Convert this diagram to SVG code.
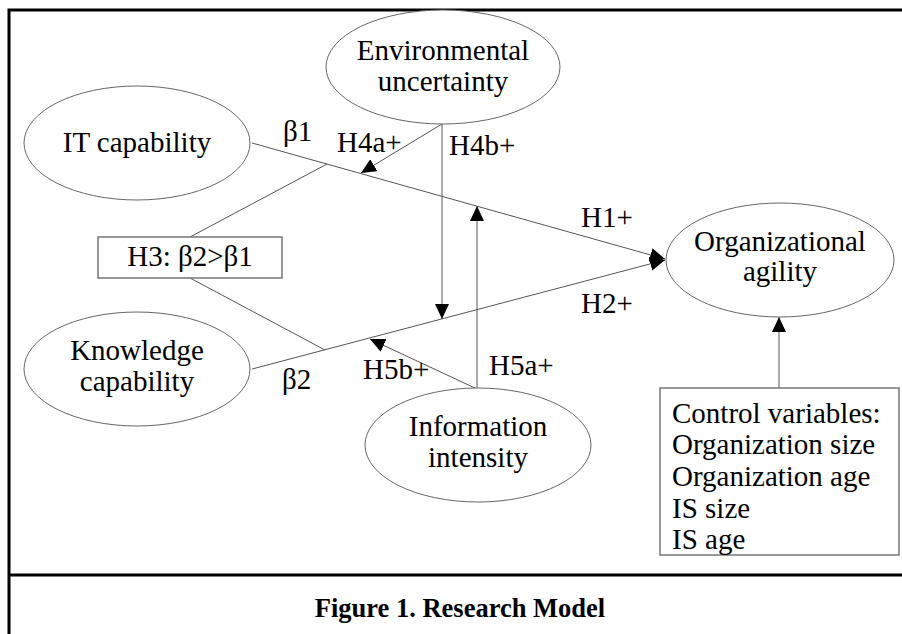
<svg xmlns="http://www.w3.org/2000/svg" width="902" height="634" viewBox="0 0 902 634">
<style>
.node ellipse{fill:#fff;stroke:#666;stroke-width:1}
.box{fill:#fff;stroke:#777;stroke-width:1.5}
.t{font-family:"Liberation Serif","Times New Roman",serif;font-size:29px;fill:#000}
.c{text-anchor:middle}
.ln{stroke:#555;stroke-width:1;fill:none}
.cap{font-family:"Liberation Serif","Times New Roman",serif;font-size:26.5px;font-weight:bold;fill:#000;text-anchor:middle}
</style>
<defs>
<marker id="ah" markerUnits="userSpaceOnUse" markerWidth="15" markerHeight="14" refX="15" refY="7" orient="auto">
<path d="M0,0 L15,7 L0,14 z" fill="#000"/>
</marker>
</defs>
<rect width="902" height="634" fill="#fff"/>
<g id="frame">
<path d="M9,640 V10 H905" fill="none" stroke="#000" stroke-width="3"/>
<line x1="9" y1="575" x2="905" y2="575" stroke="#000" stroke-width="3"/>
</g>
<g id="connectors">
<line class="ln" x1="252" y1="143" x2="665" y2="259" marker-end="url(#ah)"/>
<line class="ln" x1="252" y1="369" x2="665" y2="260" marker-end="url(#ah)"/>
<line class="ln" x1="442" y1="124" x2="361" y2="173" marker-end="url(#ah)"/>
<line class="ln" x1="442" y1="124" x2="442" y2="319" marker-end="url(#ah)"/>
<line class="ln" x1="477" y1="389" x2="477" y2="206" marker-end="url(#ah)"/>
<line class="ln" x1="477" y1="389" x2="370" y2="339" marker-end="url(#ah)"/>
<line class="ln" x1="190" y1="237" x2="327" y2="164"/>
<line class="ln" x1="190" y1="278" x2="325" y2="350"/>
<line class="ln" x1="779" y1="388" x2="779" y2="317" marker-end="url(#ah)"/>
</g>
<g id="env" class="node">
<ellipse cx="443" cy="67" rx="117" ry="57"/>
<text class="t c" x="443" y="60">Environmental</text>
<text class="t c" x="443" y="91">uncertainty</text>
</g>
<g id="itcap" class="node">
<ellipse cx="137" cy="143" rx="113" ry="57"/>
<text class="t c" x="137" y="152">IT capability</text>
</g>
<g id="kcap" class="node">
<ellipse cx="137" cy="369" rx="113" ry="57"/>
<text class="t c" x="137" y="360">Knowledge</text>
<text class="t c" x="137" y="391">capability</text>
</g>
<g id="info" class="node">
<ellipse cx="478" cy="445" rx="113" ry="57"/>
<text class="t c" x="478" y="436">Information</text>
<text class="t c" x="478" y="467">intensity</text>
</g>
<g id="agility" class="node">
<ellipse cx="780" cy="260" rx="114" ry="57"/>
<text class="t c" x="780" y="251">Organizational</text>
<text class="t c" x="780" y="281">agility</text>
</g>
<g id="h3">
<rect class="box" x="98" y="237" width="184" height="41"/>
<text class="t c" x="190" y="266">H3: β2&gt;β1</text>
</g>
<g id="controls">
<rect class="box" x="660" y="388" width="239" height="167"/>
<text class="t" x="672" y="423">Control variables:</text>
<text class="t" x="672" y="454">Organization size</text>
<text class="t" x="672" y="486">Organization age</text>
<text class="t" x="672" y="518">IS size</text>
<text class="t" x="672" y="549">IS age</text>
</g>
<g id="labels">
<text class="t" x="283" y="141">β1</text>
<text class="t" x="337" y="152">H4a+</text>
<text class="t" x="449" y="155">H4b+</text>
<text class="t" x="581" y="227">H1+</text>
<text class="t" x="581" y="313">H2+</text>
<text class="t" x="282" y="389">β2</text>
<text class="t" x="363" y="379">H5b+</text>
<text class="t" x="489" y="375">H5a+</text>
</g>
<text class="cap" x="460" y="617">Figure 1. Research Model</text>
</svg>
